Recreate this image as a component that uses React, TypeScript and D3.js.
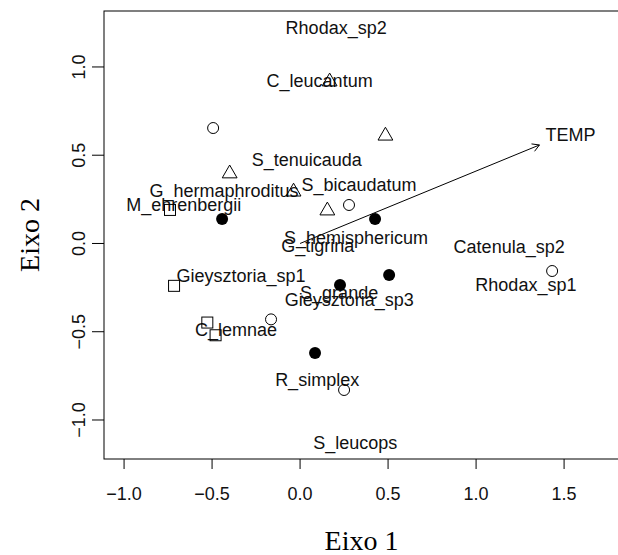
import * as d3 from "d3";

// site scores (points), by symbol group
const openCircleX = [-0.494, 0.278, -0.165, 0.25, 1.432];
const openCircleY = [0.654, 0.218, -0.43, -0.83, -0.156];
const filledCircleX = [-0.443, 0.426, 0.227, 0.506, 0.085];
const filledCircleY = [0.139, 0.139, -0.235, -0.178, -0.62];
const triangleX = [0.168, 0.485, -0.4, -0.037, 0.155];
const triangleY = [0.917, 0.61, 0.396, 0.293, 0.186];
const squareX = [-0.739, -0.716, -0.527, -0.48];
const squareY = [0.19, -0.24, -0.448, -0.52];

// species scores (labels)
const speciesNames = [
  "Rhodax_sp2", "C_leucantum", "S_tenuicauda", "S_bicaudatum",
  "G_hermaphroditus", "M_ehrenbergii", "S_hemisphericum", "G_tigrina",
  "Catenula_sp2", "Rhodax_sp1", "Gieysztoria_sp1", "S_grande",
  "Gieysztoria_sp3", "C_lemnae", "R_simplex", "S_leucops",
];
const speciesX = [0.205, 0.111, 0.038, 0.335, -0.432, -0.661, 0.318, 0.1,
  1.188, 1.283, -0.336, 0.222, 0.279, -0.364, 0.097, 0.314];
const speciesY = [1.222, 0.92, 0.475, 0.331, 0.297, 0.222, 0.031, -0.012,
  -0.018, -0.231, -0.184, -0.277, -0.32, -0.49, -0.77, -1.127];

// environmental vector
const envName = "TEMP";
const envX = 1.36;
const envY = 0.558;
const envLabelX = 1.537;
const envLabelY = 0.619;

const xTicks = [-1.0, -0.5, 0.0, 0.5, 1.0, 1.5];
const yTicks = [-1.0, -0.5, 0.0, 0.5, 1.0];

const W = 618;
const H = 555;
const left = 104, right = 619, top = 11, bottom = 459;

const sans = "'Liberation Sans', Arial, sans-serif";
const serif = "'Liberation Serif', 'Times New Roman', serif";

export default function App() {
  const x = d3.scaleLinear().domain([-1.114, 1.812]).range([left, right]);
  const y = d3.scaleLinear().domain([-1.221, 1.317]).range([bottom, top]);

  const sq = 5.5;
  const tri = d3.symbol().type(d3.symbolTriangle).size(95)()!;

  // arrow head
  const x0 = x(0), y0 = y(0), x1 = x(envX), y1 = y(envY);
  const ang = Math.atan2(y1 - y0, x1 - x0);
  const hl = 8, ha = Math.PI / 6;
  const head = `M${x1 - hl * Math.cos(ang - ha)},${y1 - hl * Math.sin(ang - ha)}L${x1},${y1}L${x1 - hl * Math.cos(ang + ha)},${y1 - hl * Math.sin(ang + ha)}`;

  return (
    <svg width={W} height={H} style={{ position: "absolute", left: 0, top: 0, background: "#fff" }}>
      <rect x={left} y={top} width={right - left} height={bottom - top} fill="none" stroke="#000" strokeWidth={1} />

      {/* x axis */}
      {xTicks.map((t) => (
        <g key={"x" + t}>
          <line x1={x(t)} x2={x(t)} y1={bottom} y2={bottom + 10} stroke="#000" />
          <text x={x(t)} y={500} textAnchor="middle" fontFamily={sans} fontSize={18} fill="#111">
            {d3.format(".1f")(t)}
          </text>
        </g>
      ))}
      {/* y axis */}
      {yTicks.map((t) => (
        <g key={"y" + t}>
          <line x1={left - 12} x2={left} y1={y(t)} y2={y(t)} stroke="#000" />
          <text transform={`translate(85,${y(t)}) rotate(-90)`} textAnchor="middle" fontFamily={sans} fontSize={18} fill="#111">
            {d3.format(".1f")(t)}
          </text>
        </g>
      ))}
      <text x={(left + right) / 2} y={550} textAnchor="middle" fontFamily={serif} fontSize={28}>Eixo 1</text>
      <text transform={`translate(39,${(top + bottom) / 2}) rotate(-90)`} textAnchor="middle" fontFamily={serif} fontSize={28}>Eixo 2</text>

      {/* env arrow */}
      <line x1={x0} y1={y0} x2={x1} y2={y1} stroke="#000" strokeWidth={1} />
      <path d={head} fill="none" stroke="#000" strokeWidth={1} />
      <text x={x(envLabelX)} y={y(envLabelY)} dy="0.35em" textAnchor="middle" fontFamily={sans} fontSize={18} fill="#111">{envName}</text>

      {/* species labels */}
      {speciesNames.map((n, i) => (
        <text key={n} x={x(speciesX[i])} y={y(speciesY[i])} dy="0.35em" textAnchor="middle" fontFamily={sans} fontSize={18} fill="#111">
          {n}
        </text>
      ))}

      {/* sites */}
      {openCircleX.map((v, i) => (
        <circle key={"oc" + i} cx={x(v)} cy={y(openCircleY[i])} r={5.5} fill="none" stroke="#000" strokeWidth={1} />
      ))}
      {filledCircleX.map((v, i) => (
        <circle key={"fc" + i} cx={x(v)} cy={y(filledCircleY[i])} r={6} fill="#000" />
      ))}
      {triangleX.map((v, i) => (
        <path key={"tr" + i} d={tri} transform={`translate(${x(v)},${y(triangleY[i])})`} fill="none" stroke="#000" strokeWidth={1} />
      ))}
      {squareX.map((v, i) => (
        <rect key={"sq" + i} x={x(v) - sq} y={y(squareY[i]) - sq} width={sq * 2} height={sq * 2} fill="none" stroke="#000" strokeWidth={1} />
      ))}
    </svg>
  );
}
